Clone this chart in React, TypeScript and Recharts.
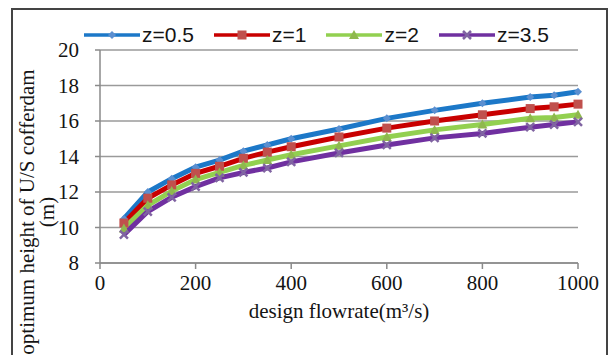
import React from "react"
import { LineChart, Line, XAxis, YAxis, CartesianGrid, Legend, Label } from "recharts"

// design flowrate (m3/s)
const flows = [50, 100, 150, 200, 250, 300, 350, 400, 500, 600, 700, 800, 900, 950, 1000]

// optimum U/S cofferdam height (m) for each z
const z05 = [10.5, 12.0, 12.75, 13.4, 13.8, 14.3, 14.65, 15.0, 15.55, 16.15, 16.6, 17.0, 17.35, 17.45, 17.65]
const z1 = [10.25, 11.65, 12.4, 13.05, 13.45, 13.9, 14.25, 14.55, 15.1, 15.6, 16.0, 16.35, 16.7, 16.8, 16.95]
const z2 = [9.95, 11.25, 12.05, 12.7, 13.1, 13.5, 13.8, 14.1, 14.6, 15.1, 15.5, 15.8, 16.15, 16.2, 16.35]
const z35 = [9.6, 10.9, 11.7, 12.3, 12.8, 13.1, 13.35, 13.7, 14.2, 14.65, 15.05, 15.3, 15.65, 15.8, 15.95]

const xTicks = [0, 200, 400, 600, 800, 1000]
const yTicks = [8, 10, 12, 14, 16, 18, 20]

const series = [
  { key: "z05", name: "z=0.5", values: z05, stroke: "#1c78c8", marker: "#5b8fd0", shape: "diamond" },
  { key: "z1", name: "z=1", values: z1, stroke: "#c80000", marker: "#c0504d", shape: "square" },
  { key: "z2", name: "z=2", values: z2, stroke: "#92d050", marker: "#8fb84e", shape: "triangle" },
  { key: "z35", name: "z=3.5", values: z35, stroke: "#7030a0", marker: "#8064a2", shape: "cross" },
]

const data = flows.map((q, i) => {
  const row: any = { q }
  series.forEach((s) => (row[s.key] = s.values[i]))
  return row
})

const serif = "'Liberation Serif', 'DejaVu Serif', serif"
const sans = "'Liberation Sans', Arial, sans-serif"
const ink = "#141414"

function Marker({ cx, cy, shape, color }: { cx: number; cy: number; shape: string; color: string }) {
  if (cx == null || cy == null) return null
  if (shape === "diamond") {
    const r = 4
    return <path d={`M${cx},${cy - r}L${cx + r},${cy}L${cx},${cy + r}L${cx - r},${cy}Z`} fill={color} />
  }
  if (shape === "square") {
    return <rect x={cx - 4.5} y={cy - 4.5} width={9} height={9} fill={color} />
  }
  if (shape === "triangle") {
    return <path d={`M${cx},${cy - 5}L${cx + 5},${cy + 4}L${cx - 5},${cy + 4}Z`} fill={color} />
  }
  return (
    <path
      d={`M${cx - 4},${cy - 4}L${cx + 4},${cy + 4}M${cx + 4},${cy - 4}L${cx - 4},${cy + 4}`}
      stroke={color}
      strokeWidth={2.5}
    />
  )
}

const renderLegend = () => (
  <div style={{ display: "flex", alignItems: "center", gap: 20, fontFamily: sans, fontSize: 21, color: ink, lineHeight: "24px" }}>
    {series.map((s) => (
      <div key={s.key} style={{ display: "flex", alignItems: "center", gap: 2 }}>
        <svg width={56} height={20}>
          <line x1={0} y1={10} x2={56} y2={10} stroke={s.stroke} strokeWidth={3.5} />
          <Marker cx={28} cy={10} shape={s.shape} color={s.marker} />
        </svg>
        <span>{s.name}</span>
      </div>
    ))}
  </div>
)

const renderYTitle = (props: any) => {
  const vb = props.viewBox || { x: 0 }
  const cy = 212
  return (
    <g fontFamily={serif} fontSize={21} fill={ink} textAnchor="middle">
      <text x={vb.x + 27} y={cy} dy="0.35em" transform={`rotate(-90, ${vb.x + 27}, ${cy})`}>
        optimum height of U/S cofferdam
      </text>
      <text x={vb.x + 47} y={cy} dy="0.35em" transform={`rotate(-90, ${vb.x + 47}, ${cy})`}>
        (m)
      </text>
    </g>
  )
}

export default function App() {
  return (
    <div style={{ position: "absolute", left: 0, top: 0, width: 610, height: 355 }}>
      <div
        style={{
          position: "absolute",
          left: 11,
          top: 8,
          width: 597,
          height: 347,
          boxSizing: "border-box",
          border: "2px solid #444",
          borderBottom: "none",
        }}
      />
      <LineChart width={610} height={355} data={data} margin={{ top: 50, right: 32, left: 0, bottom: 0 }}>
        <CartesianGrid vertical={false} stroke="#9a9a9a" strokeWidth={1.5} />
        <XAxis
          dataKey="q"
          type="number"
          domain={[0, 1000]}
          ticks={xTicks}
          height={92}
          tickSize={6}
          tickMargin={6}
          axisLine={{ stroke: "#8a8a8a", strokeWidth: 1.5 }}
          tickLine={{ stroke: "#8a8a8a", strokeWidth: 1.5 }}
          tick={{ fontFamily: serif, fontSize: 21, fill: ink }}
        >
          <Label
            value="design flowrate(m³/s)"
            position="insideBottom"
            offset={37}
            style={{ fontFamily: serif, fontSize: 21, fill: ink }}
          />
        </XAxis>
        <YAxis
          domain={[8, 20]}
          ticks={yTicks}
          width={100}
          tickSize={5}
          tickMargin={16}
          axisLine={{ stroke: "#8a8a8a", strokeWidth: 1.5 }}
          tickLine={{ stroke: "#8a8a8a", strokeWidth: 1.5 }}
          tick={{ fontFamily: serif, fontSize: 21, fill: ink }}
        >
          <Label content={renderYTitle} />
        </YAxis>
        <Legend
          layout="horizontal"
          verticalAlign="middle"
          align="center"
          wrapperStyle={{ top: 23, left: 84, width: "auto" }}
          content={renderLegend}
        />
        {series.map((s) => (
          <Line
            key={s.key}
            dataKey={s.key}
            name={s.name}
            stroke={s.stroke}
            strokeWidth={5}
            isAnimationActive={false}
            dot={(p: any) => <Marker key={`${s.key}-${p.index}`} cx={p.cx} cy={p.cy} shape={s.shape} color={s.marker} />}
            activeDot={false}
          />
        ))}
      </LineChart>
    </div>
  )
}
